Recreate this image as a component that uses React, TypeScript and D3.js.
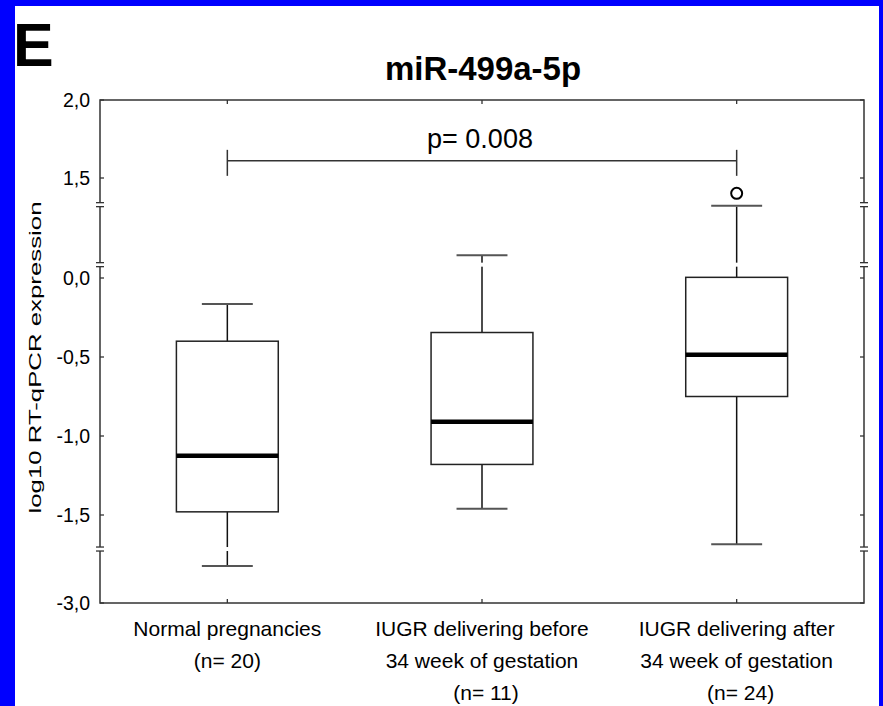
import React from 'react';
import * as d3 from 'd3';

// categories and box statistics (log10 values)
const groups = ['normal', 'iugrBefore', 'iugrAfter'];
const groupLabels = [
  ['Normal pregnancies', '(n= 20)'],
  ['IUGR delivering before', '34 week of gestation', '(n= 11)'],
  ['IUGR delivering after', '34 week of gestation', '(n= 24)'],
];
const whiskerLow = [-2.37, -1.46, -2.0];
const q1 = [-1.48, -1.18, -0.75];
const median = [-1.125, -0.91, -0.485];
const q3 = [-0.4, -0.345, 0.01];
const whiskerHigh = [-0.165, 0.34, 1.085];
const outliers = [[], [], [1.27]];

const yTicks = [2, 1.5, 0, -0.5, -1, -1.5, -3];
const yTickLabels = ['2,0', '1,5', '0,0', '-0,5', '-1,0', '-1,5', '-3,0'];
// broken axis: the scale is piecewise and the breaks are drawn at these values
const yBreakDomain = [-3, -1.5, 0, 1.5, 2];
const axisBreaks = [1.1, 0.2, -2.08];

const pValue = 'p= 0.008';
const pValueLevel = 1.61;

const W = 883;
const H = 706;
const plot = { left: 100, right: 864, top: 100, bottom: 603 };
const font = '"Liberation Sans", Arial, sans-serif';
const blue = '#0000ff';

export default function App() {
  const x = d3.scaleBand().domain(groups).range([plot.left, plot.right]);
  const y = d3
    .scaleLinear()
    .domain(yBreakDomain)
    .range([plot.bottom, 515, 278, 178, plot.top]);

  const bw = x.bandwidth();
  const boxW = bw * 0.4;
  const capW = bw * 0.2;
  const cx = (g: string) => (x(g) as number) + bw / 2;

  return (
    <svg
      width={W}
      height={H}
      style={{ position: 'absolute', left: 0, top: 0 }}
      fontFamily={font}
    >
      <rect width={W} height={H} fill="#fff" />
      <rect x={0} y={0} width={15} height={H} fill={blue} />
      <rect x={0} y={0} width={W} height={6} fill={blue} />
      <rect x={879} y={0} width={4} height={H} fill={blue} />

      {/* panel letter and title */}
      <text x={13} y={66} fontSize={61} fontWeight="bold">E</text>
      <text x={483} y={80} fontSize={33} fontWeight="bold" textAnchor="middle">
        miR-499a-5p
      </text>

      {/* whisker lines (cut by the axis breaks) */}
      {groups.map((g, i) => (
        <line
          key={'wl' + g}
          x1={cx(g)}
          x2={cx(g)}
          y1={y(whiskerLow[i])}
          y2={y(whiskerHigh[i])}
          stroke="#111"
          strokeWidth={1.5}
        />
      ))}

      {/* white bands of the axis breaks */}
      {axisBreaks.map((b) => (
        <rect
          key={'band' + b}
          x={plot.left - 2}
          y={y(b) - 2}
          width={plot.right - plot.left + 4}
          height={4}
          fill="#fff"
        />
      ))}

      {/* frame */}
      <rect
        x={plot.left}
        y={plot.top}
        width={plot.right - plot.left}
        height={plot.bottom - plot.top}
        fill="none"
        stroke="#333"
        strokeWidth={1.5}
      />
      {axisBreaks.map((b) => (
        <g key={'brk' + b}>
          <rect x={plot.left - 2} y={y(b) - 2} width={4} height={4} fill="#fff" />
          <rect x={plot.right - 2} y={y(b) - 2} width={4} height={4} fill="#fff" />
          {[-2, 2].map((d) => (
            <g key={d}>
              <line x1={plot.left - 4} x2={plot.left + 4} y1={y(b) + d} y2={y(b) + d} stroke="#333" strokeWidth={1.3} />
              <line x1={plot.right - 4} x2={plot.right + 4} y1={y(b) + d} y2={y(b) + d} stroke="#333" strokeWidth={1.3} />
            </g>
          ))}
        </g>
      ))}

      {/* y ticks */}
      {yTicks.map((t, i) => (
        <g key={'yt' + t}>
          <line x1={plot.left} x2={plot.left + 4} y1={y(t)} y2={y(t)} stroke="#333" strokeWidth={1.3} />
          <line x1={plot.right - 4} x2={plot.right} y1={y(t)} y2={y(t)} stroke="#333" strokeWidth={1.3} />
          <text x={90} y={y(t) + 7} fontSize={19.5} textAnchor="end">
            {yTickLabels[i]}
          </text>
        </g>
      ))}

      {/* category ticks top and bottom */}
      {groups.map((g) => (
        <g key={'xt' + g}>
          <line x1={cx(g)} x2={cx(g)} y1={plot.top} y2={plot.top + 4} stroke="#333" strokeWidth={1.3} />
          <line x1={cx(g)} x2={cx(g)} y1={plot.bottom - 4} y2={plot.bottom} stroke="#333" strokeWidth={1.3} />
        </g>
      ))}

      {/* boxes, caps, medians, outliers */}
      {groups.map((g, i) => (
        <g key={'box' + g}>
          <line x1={cx(g) - capW / 2} x2={cx(g) + capW / 2} y1={y(whiskerHigh[i])} y2={y(whiskerHigh[i])} stroke="#555" strokeWidth={2} />
          <line x1={cx(g) - capW / 2} x2={cx(g) + capW / 2} y1={y(whiskerLow[i])} y2={y(whiskerLow[i])} stroke="#555" strokeWidth={2} />
          <rect
            x={cx(g) - boxW / 2}
            y={y(q3[i])}
            width={boxW}
            height={y(q1[i]) - y(q3[i])}
            fill="#fff"
            stroke="#222"
            strokeWidth={1.5}
          />
          <line
            x1={cx(g) - boxW / 2}
            x2={cx(g) + boxW / 2}
            y1={y(median[i])}
            y2={y(median[i])}
            stroke="#000"
            strokeWidth={4.5}
          />
          {outliers[i].map((o) => (
            <circle key={o} cx={cx(g)} cy={y(o)} r={5.5} fill="#fff" stroke="#000" strokeWidth={2} />
          ))}
        </g>
      ))}

      {/* significance bracket */}
      <g stroke="#333" strokeWidth={1.5}>
        <line x1={cx(groups[0])} x2={cx(groups[2])} y1={y(pValueLevel)} y2={y(pValueLevel)} />
        <line x1={cx(groups[0])} x2={cx(groups[0])} y1={y(pValueLevel) - 11} y2={y(pValueLevel) + 15} />
        <line x1={cx(groups[2])} x2={cx(groups[2])} y1={y(pValueLevel) - 11} y2={y(pValueLevel) + 15} />
      </g>
      <text x={480} y={y(pValueLevel) - 13} fontSize={27} textAnchor="middle">
        {pValue}
      </text>

      {/* axis title */}
      <text
        transform={`translate(41, ${(plot.top + plot.bottom) / 2 + 6}) rotate(-90)`}
        fontSize={17}
        textAnchor="middle"
        textLength={312}
        lengthAdjust="spacingAndGlyphs"
      >
        log10 RT-qPCR expression
      </text>

      {/* category labels */}
      {groups.map((g, i) =>
        groupLabels[i].map((line, j) => (
          <text key={g + j} x={cx(g) + (j === 2 ? 4 : 0)} y={636 + j * 32} fontSize={21} textAnchor="middle">
            {line}
          </text>
        )),
      )}
    </svg>
  );
}
